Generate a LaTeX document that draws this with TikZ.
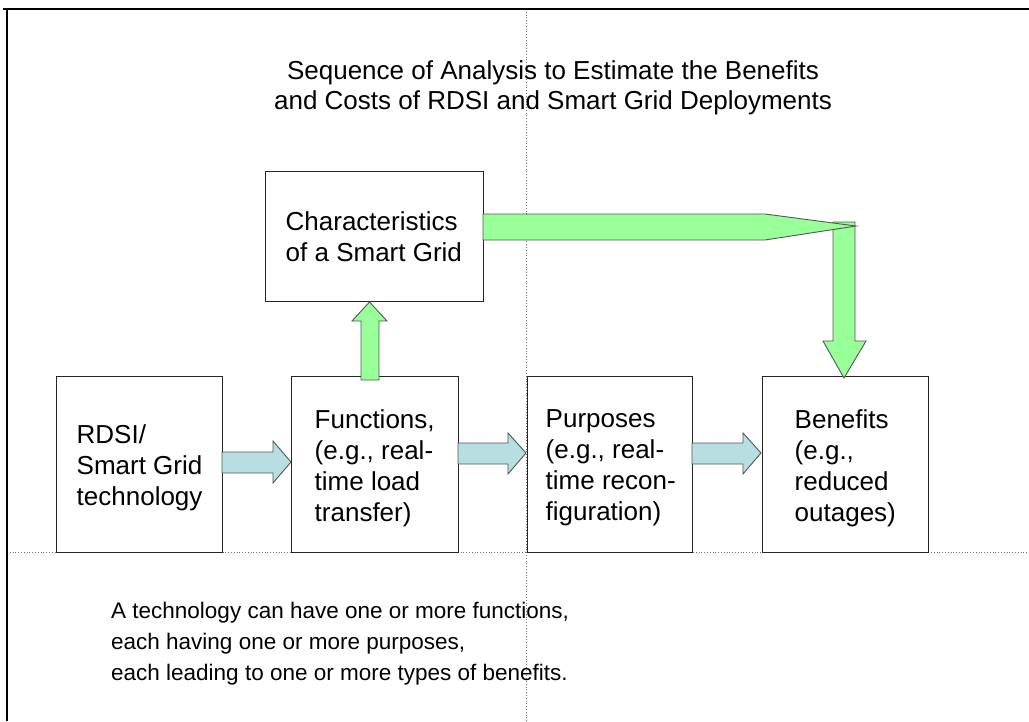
\documentclass[tikz,border=0pt]{standalone}
\usepackage{fontspec}
\setmainfont{Liberation Sans}
\usetikzlibrary{calc}
\definecolor{garrow}{HTML}{99FF99}
\definecolor{barrow}{HTML}{B7DEE0}
\definecolor{aedge}{HTML}{555555}
\tikzset{
  box/.style={draw=black!85, line width=1pt, fill=none, inner sep=0pt},
  boxtext/.style={anchor=west, align=left, inner sep=0pt, font=\fontsize{26}{31}\selectfont},
  blockg/.style={fill=garrow, draw=aedge, line width=0.9pt, line join=miter},
  blockb/.style={fill=barrow, draw=aedge, line width=0.9pt, line join=miter},
  guide/.style={draw=black!55, dotted, line width=0.8pt},
}
\begin{document}
\begin{tikzpicture}[x=1pt,y=-1pt]
\useasboundingbox (0,0) rectangle (1029,721);
% page guides
\draw[guide] (526,9) -- (526,721);
\draw[guide] (7,552) -- (1029,552);
% frame
\draw[line width=2.5pt] (3,9) -- (1029,9);
\draw[line width=2pt] (7,9) -- (7,721);
% title
\node[align=center, inner sep=0pt, font=\fontsize{26}{30}\selectfont] (title) at (553,88)
  {Sequence of Analysis to Estimate the Benefits\\and Costs of RDSI and Smart Grid Deployments};
% boxes
\node[box, minimum width=218, minimum height=130] (char) at (374,236) {};
\node[box, minimum width=166, minimum height=176] (rdsi) at (139,464) {};
\node[box, minimum width=167, minimum height=176] (func) at (374.5,464) {};
\node[box, minimum width=165, minimum height=176] (purp) at (609.5,464) {};
\node[box, minimum width=166, minimum height=176] (bene) at (845,464) {};
% box texts
\node[boxtext] (chart) at ([xshift=21,yshift=-1]char.west) {Characteristics\\of a Smart Grid};
\node[boxtext] (rdsit) at ([xshift=21,yshift=-4]rdsi.west) {RDSI/\\Smart Grid\\technology};
\node[boxtext] (funct) at ([xshift=24,yshift=-4]func.west) {Functions,\\(e.g., real-\\time load\\transfer)};
\node[boxtext] (purpt) at ([xshift=19,yshift=-4]purp.west) {Purposes\\(e.g., real-\\time recon-\\figuration)};
\node[boxtext] (benet) at ([xshift=33,yshift=-4]bene.west) {Benefits\\(e.g.,\\reduced\\outages)};
% blue arrows
\draw[blockb] (222,452) -- (273,452) -- (273,441) -- (291,462) -- (273,483) -- (273,473) -- (222,473) -- cycle;
\draw[blockb] (458,443) -- (508,443) -- (508,433) -- (526,453) -- (508,474) -- (508,464) -- (458,464) -- cycle;
\draw[blockb] (692,443) -- (743,443) -- (743,433) -- (761,453) -- (743,474) -- (743,464) -- (692,464) -- cycle;
% green arrows
\draw[blockg] (361,380) -- (361,321) -- (352,321) -- (369.5,302) -- (387,321) -- (379,321) -- (379,380) -- cycle;
\draw[blockg] (833,222) -- (855,222) -- (855,341) -- (866,341) -- (844,378) -- (823,341) -- (833,341) -- cycle;
\draw[blockg] (483,214) -- (765,214) -- (856,226) -- (765,240) -- (483,240) -- cycle;
% bottom text
\node[anchor=north west, align=left, inner sep=0pt, font=\fontsize{22.5}{31}\selectfont] (note) at (111,602)
  {A technology can have one or more functions,\\each having one or more purposes,\\each leading to one or more types of benefits.};
\end{tikzpicture}
\end{document}
